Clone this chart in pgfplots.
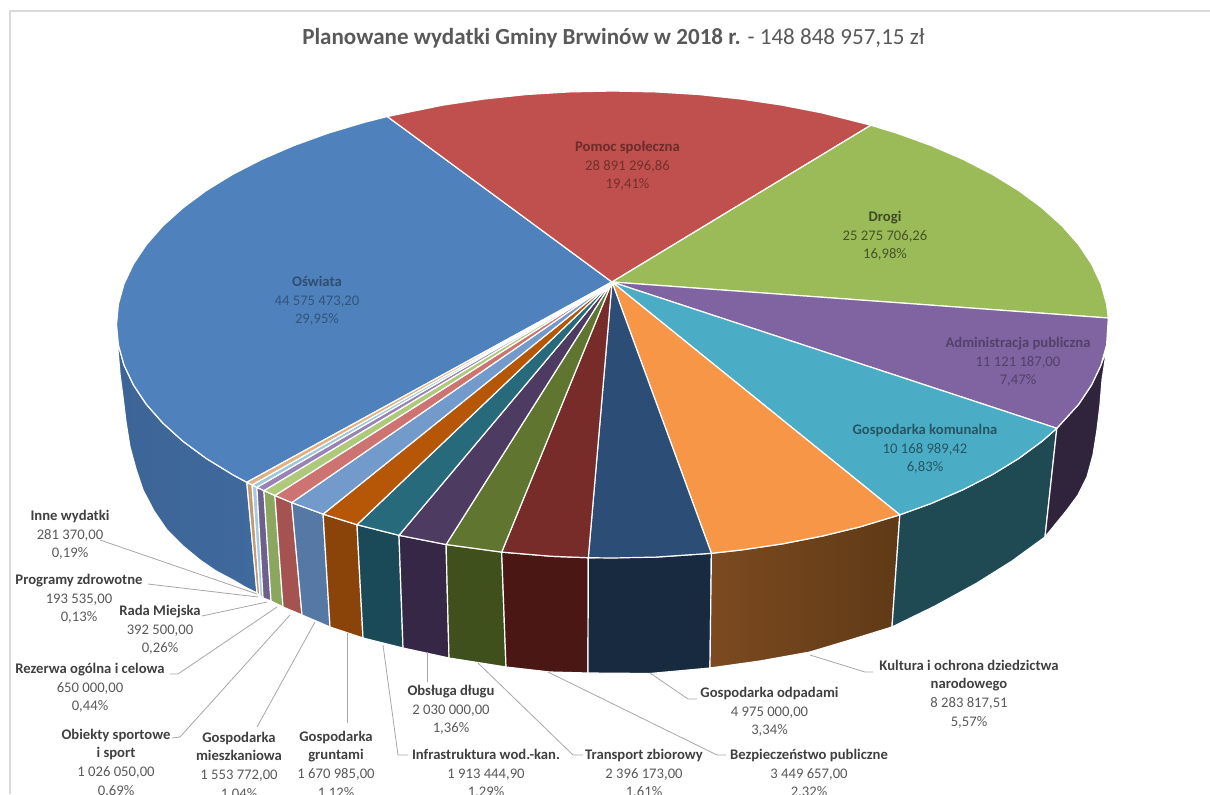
\documentclass[border=0pt]{standalone}
\usepackage{pgfplots}
\pgfplotsset{compat=1.18}
\usepackage{fontspec}
\setmainfont{Carlito}
\definecolor{tOs}{HTML}{4F81BD}\definecolor{sOsA}{HTML}{3F6A9E}\definecolor{sOsB}{HTML}{3D6496}
\definecolor{tPo}{HTML}{C0504D}
\definecolor{tDr}{HTML}{9BBB59}
\definecolor{tAd}{HTML}{8064A2}\definecolor{sAd}{HTML}{30243C}
\definecolor{tGk}{HTML}{4BACC6}\definecolor{sGk}{HTML}{1F4A54}
\definecolor{tKu}{HTML}{F79646}\definecolor{sKuA}{HTML}{7C4A20}\definecolor{sKuB}{HTML}{5F3A16}
\definecolor{tOd}{HTML}{2C4D75}\definecolor{sOd}{HTML}{182A40}
\definecolor{tBz}{HTML}{772C2A}\definecolor{sBz}{HTML}{4A1714}
\definecolor{tTr}{HTML}{5F7530}\definecolor{sTr}{HTML}{40501C}
\definecolor{tOb}{HTML}{4D3B62}\definecolor{sOb}{HTML}{352745}
\definecolor{tIn}{HTML}{276A7C}\definecolor{sIn}{HTML}{1A4A58}
\definecolor{tGr}{HTML}{B65708}\definecolor{sGr}{HTML}{8A4409}
\definecolor{tMi}{HTML}{729ACA}\definecolor{sMi}{HTML}{5578A5}
\definecolor{tSp}{HTML}{CD7371}\definecolor{sSp}{HTML}{A45350}
\definecolor{tRe}{HTML}{AFC97A}\definecolor{sRe}{HTML}{8AA65F}
\definecolor{tRa}{HTML}{9983B5}\definecolor{sRa}{HTML}{6D5F8E}
\definecolor{tPr}{HTML}{9CC8DC}\definecolor{sPr}{HTML}{A8C8E0}
\definecolor{tIw}{HTML}{E0B080}\definecolor{sIw}{HTML}{C09A70}
\definecolor{ldrc}{HTML}{A6A6A6}
\definecolor{oB}{HTML}{404040}\definecolor{oR}{HTML}{595959}
\pgfplotsset{sd/.style={draw=white,line width=0.9pt},ldr/.style={draw=ldrc,line width=0.6pt}}
\newcommand{\lab}[6]{\node[align=center,inner sep=0pt,text={#4},font=\fontsize{11}{14}\selectfont] at (axis cs:#1,#2) {\textcolor{#3}{\textbf{#5}}\\#6};}
\newcommand{\labb}[5]{\node[align=center,inner sep=0pt,text=oR,font=\fontsize{11}{14}\selectfont] at (axis cs:#1,#2) {\textcolor{oB}{\textbf{#3}}\\\textcolor{oB}{\textbf{#4}}\\#5};}
\begin{document}
\begin{tikzpicture}
\path[use as bounding box,clip] (0,0) rectangle (907.5pt,595.5pt);
\begin{axis}[at={(0,0)},anchor=south west,scale only axis,width=907.5pt,height=595.5pt,
  xmin=0,xmax=1210,ymin=0,ymax=794,y dir=reverse,hide axis,clip=false,
  every axis plot/.append style={line join=round}]
% frame
\addplot[draw=black!15,line width=0.8pt] coordinates {(10,794)(10,11)(1210,11)};
% sides
\addplot[draw=white,line width=0.9pt,left color=sOsB,right color=sOsA] coordinates {(118.4,344.9)(124,365)(133.4,384.9)(146.4,404.4)(163,423.2)(183,441.3)(206.2,458.4)(232.6,474.6)(246.8,482.3)(257,593)(245,587)(233,580)(216,571)(200,560)(183,546)(167,530)(154,511)(143,490)(136,469)(130,447)(126,422)(123,397)(120,374)(118,350)(118.4,344.9)};
\addplot[sd,fill=sIw] coordinates {(246.8,482.3)(252.1,484.9)(260,596)(257,593)(246.8,482.3)};
\addplot[sd,fill=sPr] coordinates {(252.1,484.9)(256.9,487.3)(263,598)(260,596)(252.1,484.9)};
\addplot[sd,fill=sRa] coordinates {(256.9,487.3)(263.9,490.6)(271,601)(263,598)(256.9,487.3)};
\addplot[sd,fill=sRe] coordinates {(263.9,490.6)(274.9,495.5)(283,607)(271,601)(263.9,490.6)};
\addplot[sd,fill=sSp] coordinates {(274.9,495.5)(291.7,502.6)(302,615)(283,607)(274.9,495.5)};
\addplot[sd,fill=sMi] coordinates {(291.7,502.6)(323.1,514.1)(330,627)(302,615)(291.7,502.6)};
\addplot[sd,fill=sGr] coordinates {(323.1,514.1)(357,524.7)(363,638)(330,627)(323.1,514.1)};
\addplot[sd,fill=sIn] coordinates {(357,524.7)(399,535.3)(403,648)(363,638)(357,524.7)};
\addplot[sd,fill=sOb] coordinates {(399,535.3)(446.1,544.5)(449,658)(403,648)(399,535.3)};
\addplot[sd,fill=sTr] coordinates {(446.1,544.5)(501.7,552.1)(506,667)(449,658)(446.1,544.5)};
\addplot[sd,fill=sBz] coordinates {(501.7,552.1)(552,556.3)(588.3,557.7)(588,673)(550,672)(506,667)(501.7,552.1)};
\addplot[sd,fill=sOd] coordinates {(588.3,557.7)(655.7,557.1)(711.4,553.3)(710,668)(650,673.5)(588,673)(588.3,557.7)};
\addplot[draw=white,line width=0.9pt,left color=sKuA,right color=sKuB] coordinates {(711.4,553.3)(740.9,550)(782.1,543.9)(822.1,536.1)(860.5,526.7)(899.8,514.8)(892,627)(850,640)(810,652)(760,661)(710,668)(711.4,553.3)};
\addplot[sd,fill=sGk] coordinates {(899.8,514.8)(931.3,503.4)(963.2,489.6)(992.4,474.6)(1018.8,458.4)(1042,441.3)(1056.8,428.3)(1045,537)(1012,561)(977,583)(935,606)(892,627)(899.8,514.8)};
\addplot[sd,fill=sAd] coordinates {(1056.8,428.3)(1078.6,404.4)(1091.6,384.9)(1101,365)(1106.6,350)(1102,380)(1100,405)(1097,430)(1093,455)(1087,477)(1078,495)(1067,510)(1045,537)(1056.8,428.3)};
% top
\addplot[sd,fill=tOs] coordinates {(612,282)(387.3,116.5)(364.5,122.3)(328,133.2)(293.7,145.6)(261.8,159.4)(232.6,174.4)(206.2,190.6)(183,207.8)(163,225.8)(146.4,244.6)(133.4,264.1)(124,284)(118.4,304.1)(116.5,324.5)(118.4,344.9)(124,365)(133.4,384.9)(146.4,404.4)(163,423.2)(183,441.3)(206.2,458.4)(232.6,474.6)(246.8,482.3)(612,282)};
\addplot[sd,fill=tPo] coordinates {(612,282)(387.3,116.5)(442.9,105.1)(484.1,99)(526.4,94.5)(569.3,91.9)(612.5,91)(655.7,91.9)(698.6,94.5)(740.9,99)(782.1,105.1)(822.1,112.9)(870.9,125.2)(612,282)};
\addplot[sd,fill=tDr] coordinates {(612,282)(870.9,125.2)(897,133.2)(931.3,145.6)(963.2,159.4)(992.4,174.4)(1018.8,190.6)(1042,207.8)(1062,225.8)(1078.6,244.6)(1091.6,264.1)(1101,284)(1106.6,304.1)(1108.3,318)(612,282)};
\addplot[sd,fill=tAd] coordinates {(612,282)(1108.3,318)(1106.6,344.9)(1101,365)(1091.6,384.9)(1078.6,404.4)(1056.8,428.3)(612,282)};
\addplot[sd,fill=tGk] coordinates {(612,282)(1056.8,428.3)(1042,441.3)(1018.8,458.4)(992.4,474.6)(963.2,489.6)(931.3,503.4)(899.8,514.8)(612,282)};
\addplot[sd,fill=tKu] coordinates {(612,282)(899.8,514.8)(860.5,526.7)(822.1,536.1)(782.1,543.9)(740.9,550)(711.4,553.3)(612,282)};
\addplot[sd,fill=tOd] coordinates {(612,282)(711.4,553.3)(655.7,557.1)(612.5,558)(588.3,557.7)(612,282)};
\addplot[sd,fill=tBz] coordinates {(612,282)(588.3,557.7)(552,556.3)(501.7,552.1)(612,282)};
\addplot[sd,fill=tTr] coordinates {(612,282)(501.7,552.1)(446.1,544.5)(612,282)};
\addplot[sd,fill=tOb] coordinates {(612,282)(446.1,544.5)(399,535.3)(612,282)};
\addplot[sd,fill=tIn] coordinates {(612,282)(399,535.3)(357,524.7)(612,282)};
\addplot[sd,fill=tGr] coordinates {(612,282)(357,524.7)(323.1,514.1)(612,282)};
\addplot[sd,fill=tMi] coordinates {(612,282)(323.1,514.1)(291.7,502.6)(612,282)};
\addplot[sd,fill=tSp] coordinates {(612,282)(291.7,502.6)(274.9,495.5)(612,282)};
\addplot[sd,fill=tRe] coordinates {(612,282)(274.9,495.5)(263.9,490.6)(612,282)};
\addplot[sd,fill=tRa] coordinates {(612,282)(263.9,490.6)(256.9,487.3)(612,282)};
\addplot[sd,fill=tPr] coordinates {(612,282)(256.9,487.3)(252.1,484.9)(612,282)};
\addplot[sd,fill=tIw] coordinates {(612,282)(252.1,484.9)(246.8,482.3)(612,282)};
% leader lines
\addplot[ldr] coordinates {(100,540)(257,594)};
\addplot[ldr] coordinates {(148,584)(258,597)};
\addplot[ldr] coordinates {(202,616)(267,602)};
\addplot[ldr] coordinates {(170,674)(178,674)(277,607)};
\addplot[ldr] coordinates {(172,738)(180,737)(290,615)};
\addplot[ldr] coordinates {(257,727)(315,622)};
\addplot[ldr] coordinates {(347,723)(347,633)};
\addplot[ldr] coordinates {(408,755)(398,755)(383,645)};
\addplot[ldr] coordinates {(427,682)(427,652)};
\addplot[ldr] coordinates {(583,755)(573,755)(478,663)};
\addplot[ldr] coordinates {(726,755)(717,755)(548,672)};
\addplot[ldr] coordinates {(697,699)(688,699)(650,673)};
\addplot[ldr] coordinates {(873,672)(865,672)(810,655)};
% title
\node[inner sep=0pt,anchor=west,font=\fontsize{17.3}{19}\selectfont,text=oR] at (axis cs:302,38) {\textbf{Planowane wydatki Gminy Brwinów w 2018 r.} - 148 848 957,15 zł};
% inner labels
\lab{627.5}{166}{black!45!tPo}{black!40!tPo}{Pomoc społeczna}{28 891 296,86\\19,41\%}
\lab{885}{236}{black!60!tDr}{black!55!tDr}{Drogi}{25 275 706,26\\16,98\%}
\lab{317}{301}{black!40!tOs}{black!35!tOs}{Oświata}{44 575 473,20\\29,95\%}
\lab{1018}{362}{black!35!tAd}{black!35!tAd}{Administracja publiczna}{11 121 187,00\\7,47\%}
\lab{925}{449}{black!50!tGk}{black!50!tGk}{Gospodarka komunalna}{10 168 989,42\\6,83\%}
% outer labels
\lab{70}{535}{oB}{oR}{Inne wydatki}{281 370,00\\0,19\%}
\lab{79}{599}{oB}{oR}{Programy zdrowotne}{193 535,00\\0,13\%}
\lab{160}{630}{oB}{oR}{Rada Miejska}{392 500,00\\0,26\%}
\lab{90}{688}{oB}{oR}{Rezerwa ogólna i celowa}{650 000,00\\0,44\%}
\labb{116}{763}{Obiekty sportowe}{i sport}{1 026 050,00\\0,69\%}
\labb{239}{766}{Gospodarka}{mieszkaniowa}{1 553 772,00\\1,04\%}
\labb{336}{765}{Gospodarka}{gruntami}{1 670 985,00\\1,12\%}
\lab{451}{710}{oB}{oR}{Obsługa długu}{2 030 000,00\\1,36\%}
\lab{486}{774}{oB}{oR}{Infrastruktura wod.-kan.}{1 913 444,90\\1,29\%}
\lab{644}{774}{oB}{oR}{Transport zbiorowy}{2 396 173,00\\1,61\%}
\lab{809}{774}{oB}{oR}{Bezpieczeństwo publiczne}{3 449 657,00\\2,32\%}
\lab{769.5}{712}{oB}{oR}{Gospodarka odpadami}{4 975 000,00\\3,34\%}
\labb{969}{694}{Kultura i ochrona dziedzictwa}{narodowego}{8 283 817,51\\5,57\%}
\end{axis}
\end{tikzpicture}
\end{document}
